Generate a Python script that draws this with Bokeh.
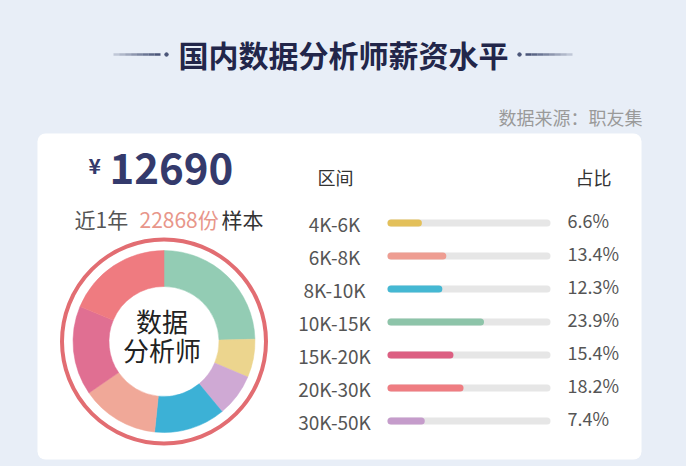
import math
from bokeh.plotting import figure
from bokeh.models import Range1d, ColumnDataSource, GlobalInlineStyleSheet
from bokeh.core.properties import value
from bokeh.embed import file_html
from bokeh.resources import INLINE

# ---------------- data ----------------
title = "国内数据分析师薪资水平"
source_note = "数据来源：职友集"
avg_salary = 12690
sample_size = 22868
ranges = ["4K-6K", "6K-8K", "8K-10K", "10K-15K", "15K-20K", "20K-30K", "30K-50K"]
shares = [6.6, 13.4, 12.3, 23.9, 15.4, 18.2, 7.4]
donut_order = ["10K-15K", "4K-6K", "30K-50K", "8K-10K", "6K-8K", "15K-20K", "20K-30K"]
center_lines = ["数据", "分析师"]

# ---------------- styles ----------------
BG = "#e8eef7"
bar_colors = ["#e3c05a", "#ee9d92", "#45b8d3", "#8dc4a9", "#dc5f82", "#ef7d82", "#c59ccb"]
donut_colors = ["#ecd58e", "#f0a898", "#3cb1d6", "#93ccb4", "#e06f92", "#ef7b80", "#cfa9d4"]
CJK = value("Noto Sans CJK SC")

W, H = 686, 466


def fy(py):
    # convert a page-pixel y (from top) to data y (upwards)
    return H - py


p = figure(width=W, height=H, output_backend="svg", toolbar_location=None,
           x_range=Range1d(0, W), y_range=Range1d(0, H),
           min_border=0, background_fill_color=BG, border_fill_color=BG,
           outline_line_color=None,
           stylesheets=[GlobalInlineStyleSheet(
               css="body{background:%s;margin:0;overflow:hidden;}" % BG)])
p.axis.visible = False
p.grid.visible = False

# ---------------- title ----------------
p.text(x=[343], y=[fy(53)], text=[title], text_font=CJK, text_font_size="30px",
       text_font_style="bold", text_color="#22264a", text_align="center",
       text_baseline="middle")
# decorative lines with fading ends
nseg = 8
for side in (-1, 1):
    inner, outer = (160, 113) if side < 0 else (525, 572)
    for k in range(nseg):
        a = outer + (inner - outer) * k / nseg
        b = outer + (inner - outer) * (k + 1) / nseg
        p.segment(x0=[a], y0=[fy(54)], x1=[b], y1=[fy(54)], line_color="#4a5578",
                  line_width=2.5, line_alpha=0.15 + 0.85 * (k + 1) / nseg)
    dot_x = 166 if side < 0 else 519
    p.scatter(x=[dot_x], y=[fy(54)], size=3.5, color="#4a5578")

p.text(x=[642], y=[fy(116)], text=[source_note], text_font=CJK, text_font_size="18px",
       text_color="#9a9a9a", text_align="right", text_baseline="middle")

# ---------------- card ----------------
p.quad(left=[37], right=[641], top=[fy(133)], bottom=[fy(459)], fill_color="white",
       line_color=None, border_radius=8)

# ---------------- headline number ----------------
p.text(x=[88], y=[fy(149)], text=["¥"], text_font=CJK, text_font_size="21px",
       text_font_style="bold", text_color="#343a6c", text_align="left", text_baseline="top")
p.text(x=[109], y=[fy(168)], text=[str(avg_salary)], text_font=CJK, text_font_size="42px",
       text_font_style="bold", text_color="#343a6c", text_align="left",
       text_baseline="middle")
p.text(x=[74], y=[fy(218)], text=["近1年"], text_font=CJK, text_font_size="21px",
       text_color="#555555", text_align="left", text_baseline="middle")
p.text(x=[139], y=[fy(218)], text=["%d份" % sample_size], text_font=CJK,
       text_font_size="21px", text_color="#e8968a", text_align="left",
       text_baseline="middle")
p.text(x=[221], y=[fy(218)], text=["样本"], text_font=CJK, text_font_size="21px",
       text_color="#333333", text_align="left", text_baseline="middle")

# ---------------- donut ----------------
cx, cy = 163.5, fy(341)
total = sum(shares)
starts, ends, cols = [], [], []
ang = math.pi / 2
for name in donut_order:
    i = ranges.index(name)
    sweep = shares[i] / total * 2 * math.pi
    starts.append(ang)
    ends.append(ang - sweep)
    cols.append(donut_colors[i])
    ang -= sweep
p.circle(x=[cx], y=[cy], radius=102, fill_color=None, line_color="#e26d72",
         line_width=4)
p.annular_wedge(x=cx, y=cy, inner_radius=55, outer_radius=91,
                start_angle=starts, end_angle=ends, direction="clock",
                fill_color=cols, line_color=cols, line_width=0.5)
p.text(x=[cx - 2, cx - 2], y=[fy(320), fy(349)], text=center_lines, text_font=CJK,
       text_font_size="26px", text_color="#222222", text_align="center",
       text_baseline="middle")

# ---------------- table of shares ----------------
p.text(x=[335, 593], y=[fy(176), fy(176)], text=["区间", "占比"], text_font=CJK,
       text_font_size="18px", text_color="#333333", text_align="center",
       text_baseline="middle")

ROW0, ROW_STEP = 222.5, 33
rows_y = [fy(ROW0 + i * ROW_STEP) for i in range(len(ranges))]
TRACK_X0, TRACK_X1 = 390.5, 546.5
BAR_MIN, BAR_SCALE = 3.7, 3.59
bar_x1 = [TRACK_X0 + BAR_MIN + v * BAR_SCALE for v in shares]

src = ColumnDataSource(dict(
    label=ranges, y=rows_y, py=[y + 3 for y in rows_y],
    pct=["%.1f%%" % v for v in shares],
    x0=[TRACK_X0] * len(ranges), xt=[TRACK_X1] * len(ranges), x1=bar_x1,
    color=bar_colors, lx=[334] * len(ranges), px=[567] * len(ranges)))

p.segment(x0="x0", y0="y", x1="xt", y1="y", source=src, line_color="#e6e6e6",
          line_width=7, line_cap="round")
p.segment(x0="x0", y0="y", x1="x1", y1="y", source=src, line_color="color",
          line_width=7, line_cap="round")
p.text(x="lx", y="y", text="label", source=src, text_font=CJK, text_font_size="19px",
       text_color="#555555", text_align="center", text_baseline="middle")
p.text(x="px", y="py", text="pct", source=src, text_font=CJK, text_font_size="18px",
       text_color="#555555", text_align="left", text_baseline="middle")

open("out.html", "w").write(file_html(p, INLINE))
